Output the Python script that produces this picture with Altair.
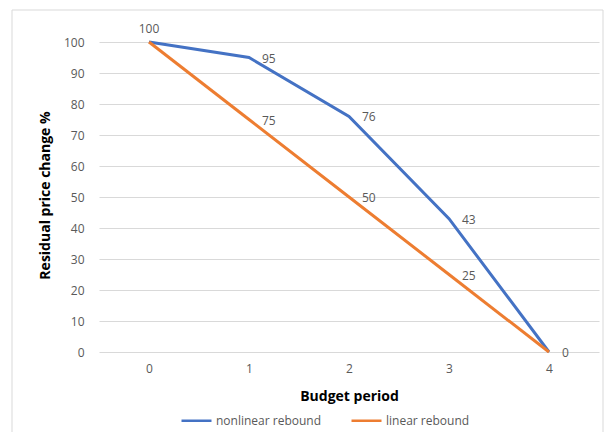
import altair as alt
import pandas as pd

periods = [0, 1, 2, 3, 4]
nonlinear = [100, 95, 76, 43, 0]
linear = [100, 75, 50, 25, 0]
series_names = ["nonlinear rebound", "linear rebound"]
colors = ["#4472C4", "#ED7D31"]
y_ticks = [0, 10, 20, 30, 40, 50, 60, 70, 80, 90, 100]

rows = []
for p, v in zip(periods, nonlinear):
    rows.append({"period": p, "value": v, "series": series_names[0]})
for p, v in zip(periods, linear):
    rows.append({"period": p, "value": v, "series": series_names[1]})
df = pd.DataFrame(rows)

FONT = "Open Sans"
TXT = "#595959"

x = alt.X("period:Q", scale=alt.Scale(domain=[-0.5, 4.5], nice=False),
          axis=alt.Axis(values=periods, format="d", grid=False, domain=False, ticks=False,
                        labelPadding=11, labelColor=TXT, labelFontSize=12, labelFont=FONT,
                        labelOverlap=False,
                        title="Budget period", titleFont=FONT, titleFontSize=14, titleFontWeight="bold",
                        titleColor="#000000", titleX=250, titleY=44, titleBaseline="middle"))
y = alt.Y("value:Q", scale=alt.Scale(domain=[0, 100], nice=False),
          axis=alt.Axis(values=y_ticks, tickCount=11, grid=True, gridColor="#D9D9D9", gridWidth=1,
                        domain=False, ticks=False, labelPadding=15, labelColor=TXT, labelFontSize=12,
                        labelFont=FONT, labelOverlap=False,
                        title="Residual price change %", titleFont=FONT, titleFontSize=14,
                        titleFontWeight="bold", titleColor="#000000", titleX=-54, titleY=153,
                        titleAngle=-90, titleBaseline="middle", titleAlign="center"))

color = alt.Color("series:N", scale=alt.Scale(domain=series_names, range=colors),
                  legend=alt.Legend(title=None, orient="none", legendX=81, legendY=362,
                                    direction="horizontal", symbolType="stroke", symbolSize=900,
                                    symbolStrokeWidth=2.5, labelFont=FONT, labelFontSize=12,
                                    labelColor=TXT, columnPadding=24, labelOffset=3))

base = alt.Chart(df)

lines = base.mark_line(strokeWidth=3).encode(x=x, y=y, color=color,
                                               order=alt.Order("period:Q"))

labels_top = base.mark_text(dy=-13, align="center", baseline="middle", font=FONT,
                            fontSize=12, color=TXT).encode(
    x=x, y=y, text="value:Q"
).transform_filter(
    (alt.datum.period == 0) & (alt.datum.series == series_names[0])
)

labels_right = base.mark_text(dx=13, dy=1, align="left", baseline="middle", font=FONT,
                              fontSize=12, color=TXT).encode(
    x=x, y=y, text="value:Q"
).transform_filter(
    (alt.datum.period > 0) & ((alt.datum.series == series_names[0]) | (alt.datum.period < 4))
)

border = alt.Chart(alt.Data(values=[{}])).mark_rect(
    fill=None, stroke="#D9D9D9", strokeWidth=1
).encode(x=alt.value(-87), x2=alt.value(504), y=alt.value(-32), y2=alt.value(400))

chart = alt.layer(border, lines, labels_top, labels_right).properties(
    width=500, height=310,
    padding={"left": 99, "top": 42, "right": 6, "bottom": 80},
    autosize=alt.AutoSizeParams(type="none"),
    background="white",
).configure_view(stroke=None)

chart.save("out.html", embed_options={"renderer": "svg", "actions": False})
